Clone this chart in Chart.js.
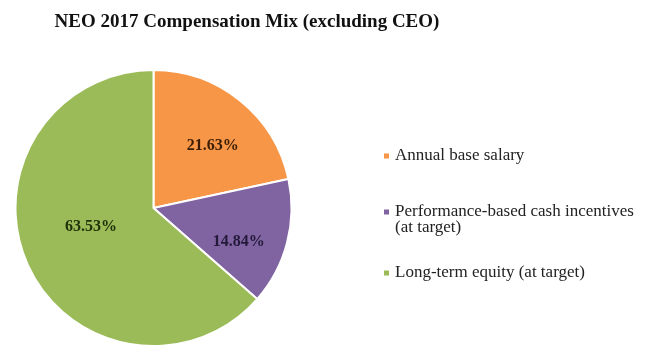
<!DOCTYPE html>
<html>
<head>
<meta charset="utf-8">
<script src="https://cdn.jsdelivr.net/npm/chart.js@4"></script>
<style>
  html, body { margin: 0; padding: 0; background: #fff; }
  #wrap { width: 648px; height: 347px; position: relative; }
</style>
</head>
<body>
<div id="wrap"><canvas id="chartMix"></canvas></div>
<script>
// dados do gráfico
const labels = ["Annual base salary", "Performance-based cash incentives (at target)", "Long-term equity (at target)"];
const shares = [21.63, 14.84, 63.53];
const titleText = "NEO 2017 Compensation Mix (excluding CEO)";

const colors = ["#f79646", "#8064a2", "#9bbb59"];
const labelColors = ["#3b1d06", "#231a3a", "#1d3208"];

// posição dos rótulos dentro das fatias (fração do raio, ajuste de ângulo em graus)
const labelRadius = [0.63, 0.66, 0.47];
const labelNudge = [4, 6, 9];

// linhas da legenda (y da primeira linha de cada item)
const legendY = [156, 212, 273];

const serif = "'Liberation Serif', 'Times New Roman', serif";

function wrapText(ctx, text, maxW){
  const words = text.split(" ");
  const lines = [];
  let cur = "";
  words.forEach(w => {
    const t = cur ? cur + " " + w : w;
    if (ctx.measureText(t).width > maxW && cur) { lines.push(cur); cur = w; }
    else cur = t;
  });
  if (cur) lines.push(cur);
  return lines;
}

const decor = {
  id: "decor",
  afterDraw(chart){
    const ctx = chart.ctx;
    ctx.save();

    // título
    ctx.fillStyle = "#111";
    ctx.font = "bold 19px " + serif;
    ctx.textAlign = "center";
    ctx.textBaseline = "middle";
    ctx.fillText(titleText, 247, 22);

    // rótulos de porcentagem
    const arcs = chart.getDatasetMeta(0).data;
    ctx.font = "bold 16px " + serif;
    arcs.forEach((arc, i) => {
      const p = arc.getProps(["x", "y", "startAngle", "endAngle", "outerRadius"], true);
      const mid = (p.startAngle + p.endAngle) / 2 + labelNudge[i] * Math.PI / 180;
      const r = p.outerRadius * labelRadius[i];
      ctx.fillStyle = labelColors[i];
      ctx.fillText(shares[i].toFixed(2) + "%", p.x + Math.cos(mid) * r, p.y + 2 + Math.sin(mid) * r);
    });

    // legenda
    ctx.font = "17px " + serif;
    ctx.textAlign = "left";
    labels.forEach((lab, i) => {
      const lines = wrapText(ctx, lab, 648 - 394);
      ctx.fillStyle = colors[i];
      ctx.fillRect(384, legendY[i] - 2.5, 5, 5);
      ctx.fillStyle = "#222";
      lines.forEach((ln, j) => ctx.fillText(ln, 395, legendY[i] + j * 15.5));
    });

    ctx.restore();
  }
};

new Chart(document.getElementById("chartMix"), {
  type: "pie",
  data: {
    labels: labels,
    datasets: [{
      data: shares,
      backgroundColor: colors,
      borderColor: "#ffffff",
      borderWidth: 2
    }]
  },
  options: {
    responsive: true,
    maintainAspectRatio: false,
    animation: false,
    layout: { padding: { left: 14, top: 69, right: 355, bottom: 0 } },
    plugins: {
      legend: { display: false },
      title: { display: false },
      tooltip: { enabled: false }
    }
  },
  plugins: [decor]
});
</script>
</body>
</html>
